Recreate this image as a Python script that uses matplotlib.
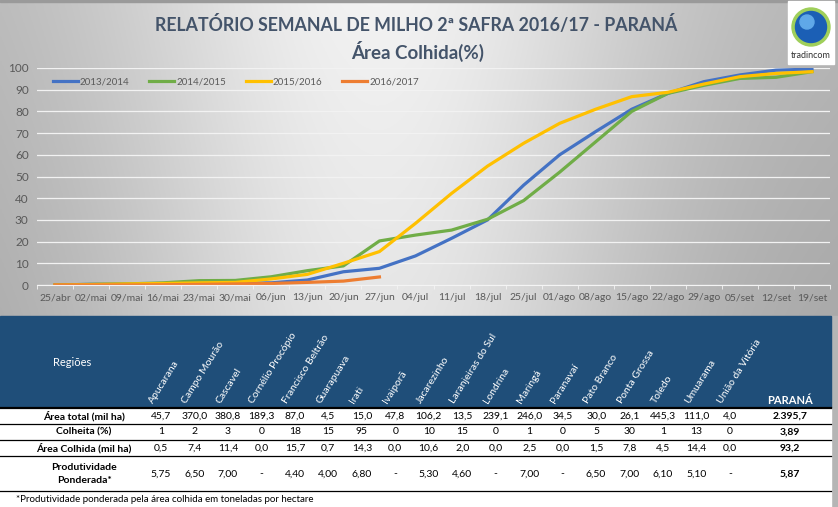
import matplotlib.pyplot as plt
import numpy as np
from matplotlib.patches import Rectangle, Circle

plt.rcParams['font.family'] = ['Lato', 'DejaVu Sans']

# semanas (eixo x)
semanas = ["25/abr", "02/mai", "09/mai", "16/mai", "23/mai", "30/mai", "06/jun",
           "13/jun", "20/jun", "27/jun", "04/jul", "11/jul", "18/jul", "25/jul",
           "01/ago", "08/ago", "15/ago", "22/ago", "29/ago", "05/set", "12/set", "19/set"]

# área colhida (%) por safra
safra_2013 = [0, 0.3, 0.4, 0.5, 0.6, 0.8, 1.0, 2.3, 6.1, 7.7, 13.4, 21.5, 30.0, 46.0,
              60.0, 70.7, 81.0, 88.3, 93.7, 96.8, 99.0, 99.5]
safra_2014 = [0, 0.3, 0.5, 1.0, 2.0, 2.1, 3.8, 6.6, 8.8, 20.3, 23.0, 25.3, 30.3, 38.9,
              52.0, 66.0, 80.0, 88.3, 92.0, 95.2, 95.7, 98.3]
safra_2015 = [0, 0.2, 0.5, 0.7, 1.0, 1.2, 2.8, 4.9, 10.0, 15.4, 28.4, 42.2, 54.8, 65.3,
              74.5, 81.0, 86.8, 88.8, 92.6, 96.0, 97.5, 98.3]
safra_2016 = [0, 0, 0, 0.1, 0.3, 0.5, 0.7, 1.2, 1.8, 3.7]

# tabela por região
regioes = ["Apucarana", "Campo Mourão", "Cascavel", "Cornélio Procópio", "Francisco Beltrão",
           "Guarapuava", "Irati", "Ivaiporã", "Jacarezinho", "Laranjeiras do Sul", "Londrina",
           "Maringá", "Paranavaí", "Pato Branco", "Ponta Grossa", "Toledo", "Umuarama",
           "União da Vitória"]
area_total = [45.7, 370.0, 380.8, 189.3, 87.0, 4.5, 15.0, 47.8, 106.2, 13.5, 239.1, 246.0,
              34.5, 30.0, 26.1, 445.3, 111.0, 4.0]
colheita = [1, 2, 3, 0, 18, 15, 95, 0, 10, 15, 0, 1, 0, 5, 30, 1, 13, 0]
area_colhida = [0.5, 7.4, 11.4, 0.0, 15.7, 0.7, 14.3, 0.0, 10.6, 2.0, 0.0, 2.5, 0.0, 1.5,
                7.8, 4.5, 14.4, 0.0]
produtividade = [5.75, 6.50, 7.00, None, 4.40, 4.00, 6.80, None, 5.30, 4.60, None, 7.00,
                 None, 6.50, 7.00, 6.10, 5.10, None]
parana = {"area_total": "2.395,7", "colheita": "3,89", "area_colhida": "93,2", "prod": "5,87"}


def br(v, casas):
    if v is None:
        return "-"
    return f"{v:.{casas}f}".replace(".", ",")


W, H = 838, 507
fig = plt.figure(figsize=(W / 100, H / 100), dpi=100)

# fundo em coordenadas de pixel
bg = fig.add_axes([0, 0, 1, 1], zorder=0)
bg.set_xlim(0, W)
bg.set_ylim(H, 0)
bg.axis("off")

xx = np.linspace(0, 1, 400)
yy = np.linspace(0, 1, 160)
X, Y = np.meshgrid(xx, yy)
lum = 0.70 + 0.25 * np.exp(-((X - 0.45) / 0.33) ** 2) - 0.05 * Y
lum = np.clip(lum, 0, 1)
bg.imshow(np.dstack([lum, lum, lum]), extent=[0, W, 316, 0], aspect="auto", zorder=0)
bg.add_patch(Rectangle((0, 0), W, 1.5, color="#9a9a9a", zorder=1))
bg.add_patch(Rectangle((831, 316), 7, H - 316, color="#b5b5b5", zorder=1))

# logotipo
bg.add_patch(Rectangle((788, 1), 46, 63, color="white", zorder=2))
bg.add_patch(Circle((811, 27), 19, color="#9fcf5a", zorder=3))
bg.add_patch(Circle((811, 27), 15.5, color="#1b5fb5", zorder=4))
bg.add_patch(Circle((807, 22), 7, color="#5fa8e8", zorder=5))
bg.text(811, 56, "tradincom", ha="center", va="center", fontsize=6.5, color="#333333", zorder=5)

# títulos
bg.text(416, 25, "RELATÓRIO SEMANAL DE MILHO 2ª SAFRA 2016/17 - PARANÁ", ha="center",
        va="center", fontsize=12.8, fontweight="bold", color="#44546A")
bg.text(418, 51, "Área Colhida(%)", ha="center", va="center", fontsize=13.5,
        fontweight="bold", color="#44546A")

# cabeçalho da tabela
bg.add_patch(Rectangle((0, 316), 831, 92, color="#1F4E79", zorder=1))
bg.add_patch(Rectangle((0, 408), 831, H - 408, color="white", zorder=1))
bg.text(72, 363, "Regiões", ha="center", va="center", fontsize=8, color="white", zorder=3)
col_x = np.linspace(161, 730, len(regioes))
for x, nome in zip(col_x, regioes):
    bg.text(x - 6, 405, nome, rotation=58, rotation_mode="anchor", ha="left", va="bottom",
            fontsize=7.5, color="white", zorder=3)
bg.text(790, 400, "PARANÁ", ha="center", va="center", fontsize=8, fontweight="bold",
        color="white", zorder=3)

# linhas da tabela
bg.plot([0, 831], [408, 408], color="black", lw=1.6, zorder=3)
for yl in [424, 440, 456, 491]:
    bg.plot([0, 831], [yl, yl], color="black", lw=0.9, zorder=3)

linhas = [
    ("Área total (mil ha)", [br(v, 1) for v in area_total], parana["area_total"], 416),
    ("Colheita (%)", [str(v) for v in colheita], parana["colheita"], 432),
    ("Área Colhida (mil ha)", [br(v, 1) for v in area_colhida], parana["area_colhida"], 448),
    ("Produtividade\nPonderada*", [br(v, 2) for v in produtividade], parana["prod"], 474),
]
for rotulo, valores, total, y in linhas:
    bg.text(84, y, rotulo, ha="center", va="center", fontsize=7.5, fontweight="bold",
            color="black", zorder=3, linespacing=1.7)
    for x, v in zip(col_x, valores):
        bg.text(x, y, v, ha="center", va="center", fontsize=7.5, color="black", zorder=3)
    bg.text(790, y, total, ha="center", va="center", fontsize=7.5, fontweight="bold",
            color="black", zorder=3)
bg.text(16, 500, "*Produtividade ponderada pela área colhida em toneladas por hectare",
        ha="left", va="center", fontsize=7, color="black", zorder=3)

# gráfico de linhas
ax = fig.add_axes([37 / W, (H - 285) / H, (830 - 37) / W, (285 - 68) / H], zorder=2)
ax.patch.set_alpha(0)
x = np.arange(len(semanas))
ax.plot(x, safra_2013, color="#4472C4", lw=2.3, label="2013/2014")
ax.plot(x, safra_2014, color="#70AD47", lw=2.3, label="2014/2015")
ax.plot(x, safra_2015, color="#FFC000", lw=2.3, label="2015/2016")
ax.plot(x[:len(safra_2016)], safra_2016, color="#ED7D31", lw=2.3, label="2016/2017")
ax.set_xlim(-0.5, len(semanas) - 0.5)
ax.set_ylim(0, 100)
ax.set_yticks(range(0, 101, 10))
ax.set_xticks(x)
ax.set_xticklabels(semanas)
ax.set_xticks(np.arange(-0.5, len(semanas), 1), minor=True)
ax.tick_params(axis="x", which="major", length=0, labelsize=7.5, labelcolor="#595959", pad=6)
ax.tick_params(axis="x", which="minor", length=3, color="#f4f4f4", direction="out")
ax.tick_params(axis="y", length=0, labelsize=8.5, labelcolor="#595959", pad=6)
ax.grid(axis="y", color="#f2f2f2", lw=0.9)
ax.set_axisbelow(True)
for s in ["top", "right", "left"]:
    ax.spines[s].set_visible(False)
ax.spines["bottom"].set_color("#f4f4f4")
ax.legend(loc="upper left", bbox_to_anchor=(44 / W, (H - 69) / H),
          bbox_transform=fig.transFigure, ncol=4, frameon=False, fontsize=7,
          handlelength=2.6, columnspacing=2.0, handletextpad=0.2, labelcolor="#595959")

fig.savefig("out.png", dpi=100)
